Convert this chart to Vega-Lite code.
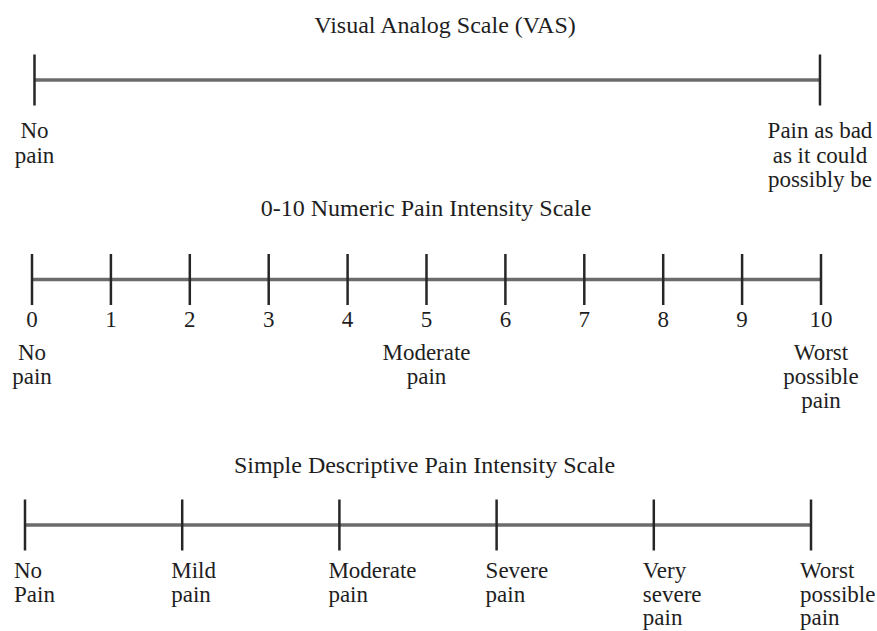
{
  "$schema": "https://vega.github.io/schema/vega-lite/v6.json",
  "background": "white",
  "padding": {"top": 14, "left": 0, "right": 0, "bottom": 0},
  "autosize": {"type": "pad"},
  "spacing": 0,
  "bounds": "flush",
  "config": {
    "view": {"stroke": null},
    "text": {"font": "Liberation Serif", "fontSize": 23, "color": "#1e1e1e", "baseline": "alphabetic", "lineBreak": "\n"}
  },
  "datasets": {
    "vas": [
      {"mm": 0, "label": "No\npain"},
      {"mm": 100, "label": "Pain as bad\nas it could\npossibly be"}
    ],
    "nrs": [
      {"score": 0, "label": "No\npain"},
      {"score": 1, "label": ""},
      {"score": 2, "label": ""},
      {"score": 3, "label": ""},
      {"score": 4, "label": ""},
      {"score": 5, "label": "Moderate\npain"},
      {"score": 6, "label": ""},
      {"score": 7, "label": ""},
      {"score": 8, "label": ""},
      {"score": 9, "label": ""},
      {"score": 10, "label": "Worst\npossible\npain"}
    ],
    "vds": [
      {"level": 0, "label": "No\nPain"},
      {"level": 1, "label": "Mild\npain"},
      {"level": 2, "label": "Moderate\npain"},
      {"level": 3, "label": "Severe\npain"},
      {"level": 4, "label": "Very\nsevere\npain"},
      {"level": 5, "label": "Worst\npossible\npain"}
    ]
  },
  "vconcat": [
    {
      "width": 877,
      "height": 100,
      "data": {"name": "vas"},
      "layer": [
        {
          "data": {"values": [{"title": "Visual Analog Scale (VAS)"}]},
          "mark": {"type": "text", "fontSize": 24, "dy": -47, "dx": 6.5, "align": "center", "baseline": "alphabetic"},
          "encoding": {"text": {"field": "title", "type": "nominal"}}
        },
        {
          "mark": {"type": "rule", "color": "#6b6b6b", "strokeWidth": 3.5},
          "encoding": {
            "x": {"aggregate": "min", "field": "mm", "type": "quantitative", "scale": {"domain": [-4.392, 107.26], "nice": false, "zero": false}, "axis": null},
            "x2": {"aggregate": "max", "field": "mm"}
          }
        },
        {
          "mark": {"type": "tick", "orient": "vertical", "size": 51, "thickness": 2.5, "color": "#262626", "opacity": 1},
          "encoding": {"x": {"field": "mm", "type": "quantitative"}}
        },
        {
          "mark": {"type": "text", "dy": 58, "lineHeight": 24.5, "align": "center", "baseline": "alphabetic"},
          "encoding": {"x": {"field": "mm", "type": "quantitative"}, "text": {"field": "label", "type": "nominal"}}
        }
      ]
    },
    {
      "width": 877,
      "height": 299,
      "data": {"name": "nrs"},
      "layer": [
        {
          "data": {"values": [{"title": "0-10 Numeric Pain Intensity Scale"}]},
          "mark": {"type": "text", "fontSize": 24, "dy": -63.5, "dx": -12.5, "align": "center", "baseline": "alphabetic"},
          "encoding": {"text": {"field": "title", "type": "nominal"}}
        },
        {
          "mark": {"type": "rule", "color": "#6b6b6b", "strokeWidth": 3.5},
          "encoding": {
            "x": {"aggregate": "min", "field": "score", "type": "quantitative", "scale": {"domain": [-0.4056, 10.7098], "nice": false, "zero": false}, "axis": null},
            "x2": {"aggregate": "max", "field": "score"}
          }
        },
        {
          "mark": {"type": "tick", "orient": "vertical", "size": 51, "thickness": 2.5, "color": "#262626", "opacity": 1},
          "encoding": {"x": {"field": "score", "type": "quantitative"}}
        },
        {
          "mark": {"type": "text", "dy": 47.5, "align": "center", "baseline": "alphabetic"},
          "encoding": {"x": {"field": "score", "type": "quantitative"}, "text": {"field": "score", "type": "quantitative"}}
        },
        {
          "transform": [{"filter": "datum.label != ''"}],
          "mark": {"type": "text", "dy": 80.5, "lineHeight": 24, "align": "center", "baseline": "alphabetic"},
          "encoding": {"x": {"field": "score", "type": "quantitative"}, "text": {"field": "label", "type": "nominal"}}
        }
      ]
    },
    {
      "width": 877,
      "height": 192,
      "data": {"name": "vds"},
      "layer": [
        {
          "data": {"values": [{"title": "Simple Descriptive Pain Intensity Scale"}]},
          "mark": {"type": "text", "fontSize": 24, "dy": -52, "dx": -14, "align": "center", "baseline": "alphabetic"},
          "encoding": {"text": {"field": "title", "type": "nominal"}}
        },
        {
          "mark": {"type": "rule", "color": "#6b6b6b", "strokeWidth": 3.5},
          "encoding": {
            "x": {"aggregate": "min", "field": "level", "type": "quantitative", "scale": {"domain": [-0.159, 5.4198], "nice": false, "zero": false}, "axis": null},
            "x2": {"aggregate": "max", "field": "level"}
          }
        },
        {
          "mark": {"type": "tick", "orient": "vertical", "size": 51, "thickness": 2.5, "color": "#262626", "opacity": 1},
          "encoding": {"x": {"field": "level", "type": "quantitative"}}
        },
        {
          "mark": {"type": "text", "dy": 53, "dx": -11, "lineHeight": 23.5, "align": "left", "baseline": "alphabetic"},
          "encoding": {"x": {"field": "level", "type": "quantitative"}, "text": {"field": "label", "type": "nominal"}}
        }
      ]
    }
  ]
}
